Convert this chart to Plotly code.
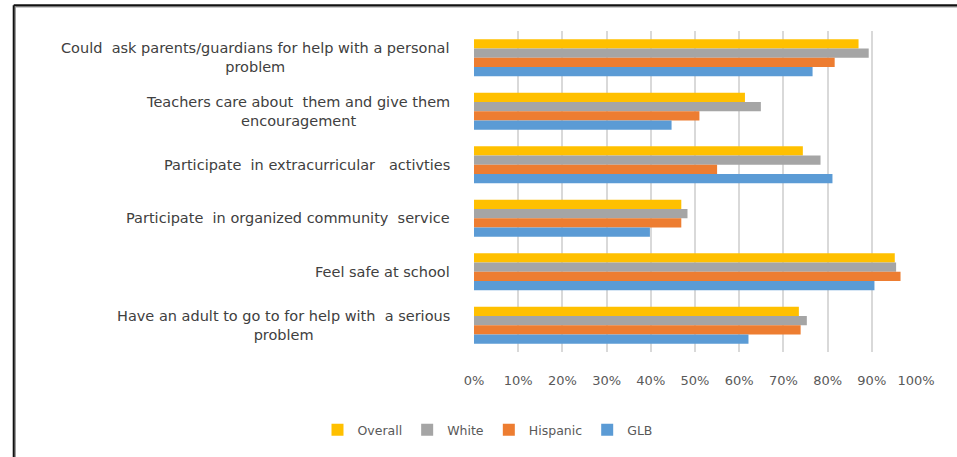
import plotly.graph_objects as go

NB = "\u00a0"

# Survey indicators (top to bottom) and share of students in each group
categories = [
    f"Could{NB} ask parents/guardians for help with a personal<br>problem",
    f"Teachers care about{NB} them and give them<br>encouragement",
    f"Participate{NB} in extracurricular{NB}{NB} activties",
    f"Participate{NB} in organized community{NB} service",
    "Feel safe at school",
    f"Have an adult to go to for help with{NB} a serious<br>problem",
]
overall = [0.870, 0.613, 0.744, 0.469, 0.952, 0.735]
white = [0.893, 0.649, 0.784, 0.483, 0.955, 0.753]
hispanic = [0.816, 0.510, 0.550, 0.469, 0.965, 0.739]
glb = [0.766, 0.447, 0.811, 0.398, 0.906, 0.621]

series = [
    ("Overall", overall, "#FFC000"),
    ("White", white, "#A5A5A5"),
    ("Hispanic", hispanic, "#ED7D31"),
    ("GLB", glb, "#5B9BD5"),
]
tick_vals = [i / 10 for i in range(11)]
tick_text = [f"{i * 10}%" for i in range(11)]

W, H = 957, 457
ML, MR, MT, MB = 473.5, 41.3, 31, 102.7
PW, PH = W - ML - MR, H - MT - MB
FONT = "DejaVu Sans, sans-serif"


def px_to_paper(x=None, y=None):
    """Convert page pixel coordinates to paper coordinates."""
    out = []
    if x is not None:
        out.append((x - ML) / PW)
    if y is not None:
        out.append((H - MB - y) / PH)
    return out[0] if len(out) == 1 else tuple(out)


fig = go.Figure()
for name, vals, color in series:
    fig.add_trace(go.Bar(
        y=categories, x=vals, name=name, orientation="h",
        marker=dict(color=color, line=dict(width=0)),
    ))

# Category labels: right edge left of the plot, wrapped lines centred
label_font = dict(family=FONT, size=14.5, color="#404040")
for cat in categories:
    fig.add_annotation(
        x=px_to_paper(x=451), xref="paper", y=cat, yref="y",
        xanchor="right", yanchor="middle", align="center",
        text=cat, showarrow=False, font=label_font,
    )

# Outer frame (top and left edges with a soft shadow)
frame = [
    (13, 5, W + 5, 5),
    (13, 5, 13, H + 5),
]
for x0, y0, x1, y1 in frame:
    ax0, ay0 = px_to_paper(x=x0 + 1.5, y=y0 + 1.5)
    ax1, ay1 = px_to_paper(x=x1 + 1.5, y=y1 + 1.5)
    fig.add_shape(type="line", xref="paper", yref="paper",
                  x0=ax0, y0=ay0, x1=ax1, y1=ay1,
                  line=dict(color="#9a9a9a", width=1.5))
    bx0, by0 = px_to_paper(x=x0, y=y0)
    bx1, by1 = px_to_paper(x=x1, y=y1)
    fig.add_shape(type="line", xref="paper", yref="paper",
                  x0=bx0, y0=by0, x1=bx1, y1=by1,
                  line=dict(color="#111111", width=2))

lx, ly = px_to_paper(x=487, y=433)
fig.update_layout(
    width=W, height=H,
    margin=dict(l=ML, r=MR, t=MT, b=MB, pad=0),
    paper_bgcolor="white", plot_bgcolor="white",
    barmode="group", bargap=0.305, bargroupgap=0,
    showlegend=True,
    legend=dict(
        orientation="h", x=lx, y=ly, xanchor="center", yanchor="middle",
        font=dict(family=FONT, size=12.5, color="#595959"),
        itemwidth=30, tracegroupgap=0,
    ),
    xaxis=dict(
        range=[0, 1], tickvals=tick_vals, ticktext=tick_text,
        showgrid=True, gridcolor="#d9d9d9", gridwidth=1.5,
        zeroline=False, showline=False,
        ticks="outside", ticklen=16, tickcolor="rgba(0,0,0,0)",
        tickfont=dict(family=FONT, size=13, color="#595959"),
        fixedrange=True,
    ),
    yaxis=dict(
        autorange="reversed", showticklabels=False, showgrid=False,
        zeroline=False, showline=False, ticks="", fixedrange=True,
    ),
    font=dict(family=FONT),
)

fig.write_html("out.html")
